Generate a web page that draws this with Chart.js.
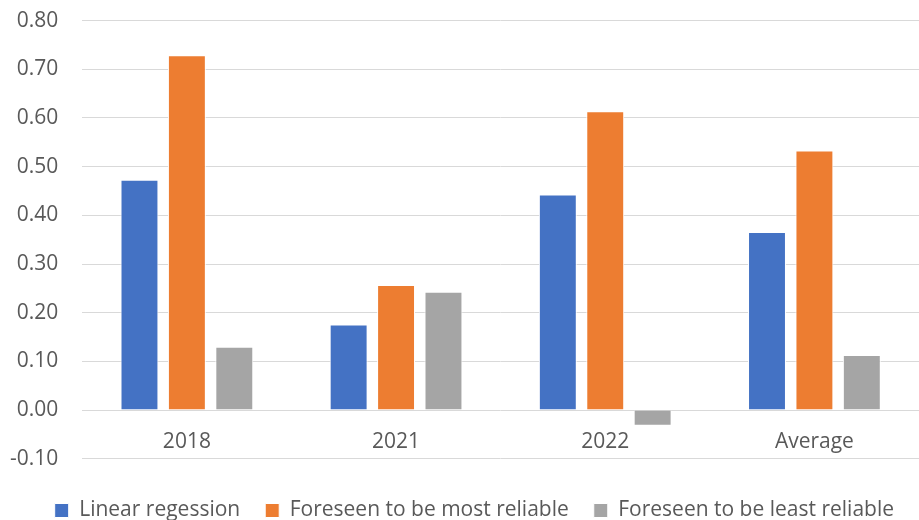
<!DOCTYPE html>
<html>
<head>
<meta charset="utf-8">
<script src="https://cdn.jsdelivr.net/npm/chart.js@4"></script>
<style>
  html, body { margin: 0; padding: 0; background: #fff; overflow: hidden; }
  /* canvas starts a bit above the window so the plot reaches the top like the original */
  #wrap { width: 919px; height: 536px; margin-top: -16px; }
</style>
</head>
<body>
<div id="wrap"><canvas id="chart"></canvas></div>
<script>
const categories = ["2018", "2021", "2022", "Average"];
const linearRegression = [0.473, 0.176, 0.443, 0.366];
const mostReliable = [0.729, 0.257, 0.614, 0.533];
const leastReliable = [0.130, 0.243, -0.032, 0.113];
const yTicks = [-0.1, 0, 0.1, 0.2, 0.3, 0.4, 0.5, 0.6, 0.7, 0.8];

const font = "'Open Sans', 'Noto Sans', sans-serif";
const textColor = "#595959";

function bars(label, data, color) {
  return {
    label: label,
    data: data,
    backgroundColor: color,
    borderColor: "#ffffff",
    borderWidth: 1,
    categoryPercentage: 0.68,
    barPercentage: 0.8
  };
}

new Chart(document.getElementById("chart"), {
  type: "bar",
  data: {
    labels: categories,
    datasets: [
      bars("Linear regession", linearRegression, "#4472c4"),
      bars("Foreseen to be most reliable", mostReliable, "#ed7d31"),
      bars("Foreseen to be least reliable", leastReliable, "#a5a5a5")
    ]
  },
  options: {
    responsive: true,
    maintainAspectRatio: false,
    animation: false,
    layout: { padding: { top: 0, left: -14, right: 0, bottom: -11 } },
    plugins: {
      legend: {
        position: "bottom",
        align: "end",
        // empty title only adds a gap between the plot and the legend items
        title: { display: true, text: " ", font: { size: 1 }, padding: { top: 7, bottom: 8 } },
        labels: {
          font: { family: font, size: 21 },
          color: textColor,
          boxWidth: 14,
          boxHeight: 14,
          padding: 25
        }
      },
      tooltip: { enabled: false }
    },
    scales: {
      x: {
        position: { y: 0 },
        grid: { display: false },
        border: { display: false },
        ticks: {
          font: { family: font, size: 21 },
          color: textColor,
          padding: 11
        }
      },
      y: {
        min: -0.1,
        max: 0.8,
        afterBuildTicks: axis => { axis.ticks = yTicks.map(v => ({ value: v })); },
        grid: { color: "#d9d9d9", lineWidth: 1, drawTicks: false },
        border: { display: false },
        ticks: {
          font: { family: font, size: 21 },
          color: textColor,
          padding: 24,
          callback: v => v.toFixed(2)
        }
      }
    }
  }
});
</script>
</body>
</html>
